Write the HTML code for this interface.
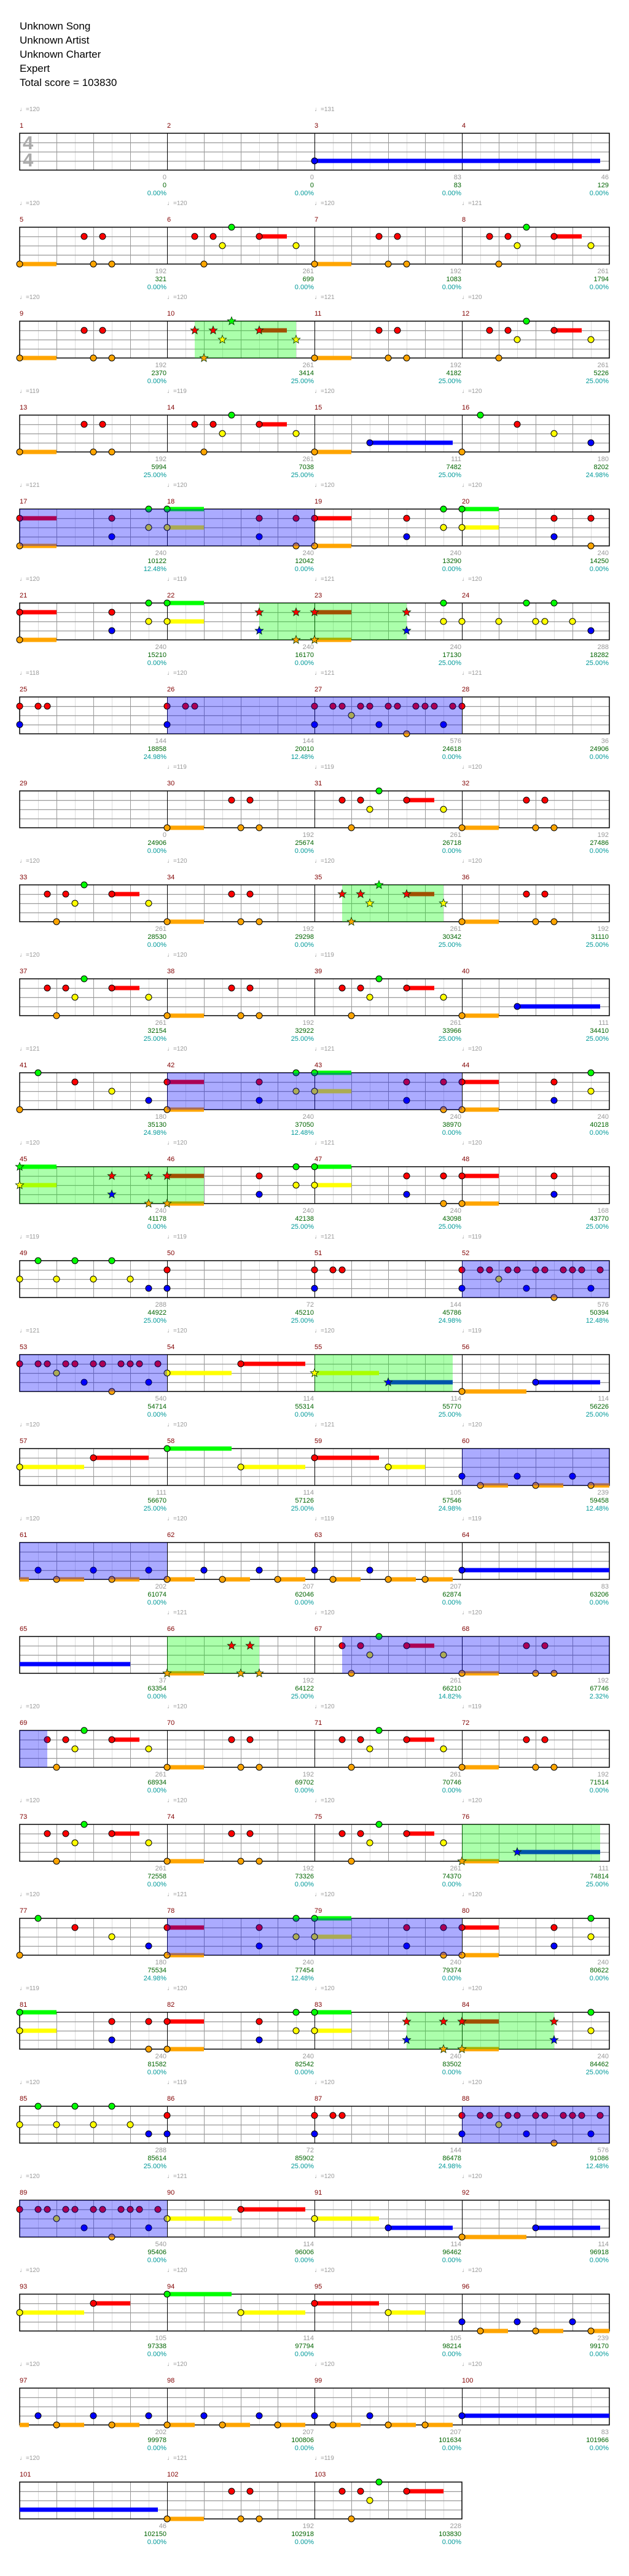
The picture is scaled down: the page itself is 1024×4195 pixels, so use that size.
<!DOCTYPE html>
<html><head><meta charset="utf-8">
<style>
html,body{margin:0;padding:0;background:#fff}
body{width:1024px;height:4195px;position:relative;overflow:hidden;font-family:"Liberation Sans",sans-serif}
#cv{position:absolute;left:0;top:0}
.hd{position:absolute;left:32px;top:31px;font-size:17px;line-height:23px;color:#000}
.row{position:absolute;left:0;width:1024px;height:1px}
.c0{left:32px}.c1{left:272px}.c2{left:512px}.c3{left:752px}
.tp{position:absolute;top:-44px;font-size:10px;color:#999;white-space:nowrap}
.mn{position:absolute;top:-18px;font-size:11px;color:#800000}
.st{position:absolute;top:66px;width:239px;text-align:right;font-size:11px;line-height:13px}
.st b{display:block;font-weight:normal;color:#999}
.st b.g{color:#006400}.st b.c{color:#009999}
.ts{position:absolute;left:37px;font-size:31px;line-height:28px;color:#aaa;font-weight:bold}
</style></head><body>
<svg id="cv" width="1024" height="4195" xmlns="http://www.w3.org/2000/svg"></svg>
<div class="hd">Unknown Song<br>Unknown Artist<br>Unknown Charter<br>Expert<br>Total score = 103830</div>
<div class="ts" style="top:219px">4</div><div class="ts" style="top:247px">4</div>

<div class="row" style="top:217px"><span class="tp c0">♩=120</span><span class="tp c2">♩=131</span>
<span class="mn c0">1</span><span class="mn c1">2</span><span class="mn c2">3</span><span class="mn c3">4</span>
<div class="st c0"><b>0</b><b class="g">0</b><b class="c">0.00%</b></div><div class="st c1"><b>0</b><b class="g">0</b><b class="c">0.00%</b></div><div class="st c2"><b>83</b><b class="g">83</b><b class="c">0.00%</b></div><div class="st c3"><b>46</b><b class="g">129</b><b class="c">0.00%</b></div></div>

<div class="row" style="top:370px"><span class="tp c0">♩=120</span><span class="tp c1">♩=120</span><span class="tp c2">♩=120</span><span class="tp c3">♩=121</span>
<span class="mn c0">5</span><span class="mn c1">6</span><span class="mn c2">7</span><span class="mn c3">8</span>
<div class="st c0"><b>192</b><b class="g">321</b><b class="c">0.00%</b></div><div class="st c1"><b>261</b><b class="g">699</b><b class="c">0.00%</b></div><div class="st c2"><b>192</b><b class="g">1083</b><b class="c">0.00%</b></div><div class="st c3"><b>261</b><b class="g">1794</b><b class="c">0.00%</b></div></div>

<div class="row" style="top:523px"><span class="tp c0">♩=120</span><span class="tp c1">♩=120</span><span class="tp c2">♩=121</span><span class="tp c3">♩=120</span>
<span class="mn c0">9</span><span class="mn c1">10</span><span class="mn c2">11</span><span class="mn c3">12</span>
<div class="st c0"><b>192</b><b class="g">2370</b><b class="c">0.00%</b></div><div class="st c1"><b>261</b><b class="g">3414</b><b class="c">25.00%</b></div><div class="st c2"><b>192</b><b class="g">4182</b><b class="c">25.00%</b></div><div class="st c3"><b>261</b><b class="g">5226</b><b class="c">25.00%</b></div></div>

<div class="row" style="top:676px"><span class="tp c0">♩=119</span><span class="tp c1">♩=119</span><span class="tp c2">♩=120</span><span class="tp c3">♩=120</span>
<span class="mn c0">13</span><span class="mn c1">14</span><span class="mn c2">15</span><span class="mn c3">16</span>
<div class="st c0"><b>192</b><b class="g">5994</b><b class="c">25.00%</b></div><div class="st c1"><b>261</b><b class="g">7038</b><b class="c">25.00%</b></div><div class="st c2"><b>111</b><b class="g">7482</b><b class="c">25.00%</b></div><div class="st c3"><b>180</b><b class="g">8202</b><b class="c">24.98%</b></div></div>

<div class="row" style="top:829px"><span class="tp c0">♩=121</span><span class="tp c1">♩=120</span><span class="tp c2">♩=120</span><span class="tp c3">♩=120</span>
<span class="mn c0">17</span><span class="mn c1">18</span><span class="mn c2">19</span><span class="mn c3">20</span>
<div class="st c0"><b>240</b><b class="g">10122</b><b class="c">12.48%</b></div><div class="st c1"><b>240</b><b class="g">12042</b><b class="c">0.00%</b></div><div class="st c2"><b>240</b><b class="g">13290</b><b class="c">0.00%</b></div><div class="st c3"><b>240</b><b class="g">14250</b><b class="c">0.00%</b></div></div>

<div class="row" style="top:982px"><span class="tp c0">♩=120</span><span class="tp c1">♩=119</span><span class="tp c2">♩=121</span><span class="tp c3">♩=120</span>
<span class="mn c0">21</span><span class="mn c1">22</span><span class="mn c2">23</span><span class="mn c3">24</span>
<div class="st c0"><b>240</b><b class="g">15210</b><b class="c">0.00%</b></div><div class="st c1"><b>240</b><b class="g">16170</b><b class="c">0.00%</b></div><div class="st c2"><b>240</b><b class="g">17130</b><b class="c">25.00%</b></div><div class="st c3"><b>288</b><b class="g">18282</b><b class="c">25.00%</b></div></div>

<div class="row" style="top:1135px"><span class="tp c0">♩=118</span><span class="tp c1">♩=120</span><span class="tp c2">♩=121</span><span class="tp c3">♩=121</span>
<span class="mn c0">25</span><span class="mn c1">26</span><span class="mn c2">27</span><span class="mn c3">28</span>
<div class="st c0"><b>144</b><b class="g">18858</b><b class="c">24.98%</b></div><div class="st c1"><b>144</b><b class="g">20010</b><b class="c">12.48%</b></div><div class="st c2"><b>576</b><b class="g">24618</b><b class="c">0.00%</b></div><div class="st c3"><b>36</b><b class="g">24906</b><b class="c">0.00%</b></div></div>

<div class="row" style="top:1288px"><span class="tp c1">♩=119</span><span class="tp c2">♩=119</span><span class="tp c3">♩=120</span>
<span class="mn c0">29</span><span class="mn c1">30</span><span class="mn c2">31</span><span class="mn c3">32</span>
<div class="st c0"><b>0</b><b class="g">24906</b><b class="c">0.00%</b></div><div class="st c1"><b>192</b><b class="g">25674</b><b class="c">0.00%</b></div><div class="st c2"><b>261</b><b class="g">26718</b><b class="c">0.00%</b></div><div class="st c3"><b>192</b><b class="g">27486</b><b class="c">0.00%</b></div></div>

<div class="row" style="top:1441px"><span class="tp c0">♩=120</span><span class="tp c1">♩=120</span><span class="tp c2">♩=120</span><span class="tp c3">♩=120</span>
<span class="mn c0">33</span><span class="mn c1">34</span><span class="mn c2">35</span><span class="mn c3">36</span>
<div class="st c0"><b>261</b><b class="g">28530</b><b class="c">0.00%</b></div><div class="st c1"><b>192</b><b class="g">29298</b><b class="c">0.00%</b></div><div class="st c2"><b>261</b><b class="g">30342</b><b class="c">25.00%</b></div><div class="st c3"><b>192</b><b class="g">31110</b><b class="c">25.00%</b></div></div>

<div class="row" style="top:1594px"><span class="tp c0">♩=120</span><span class="tp c1">♩=120</span><span class="tp c2">♩=119</span>
<span class="mn c0">37</span><span class="mn c1">38</span><span class="mn c2">39</span><span class="mn c3">40</span>
<div class="st c0"><b>261</b><b class="g">32154</b><b class="c">25.00%</b></div><div class="st c1"><b>192</b><b class="g">32922</b><b class="c">25.00%</b></div><div class="st c2"><b>261</b><b class="g">33966</b><b class="c">25.00%</b></div><div class="st c3"><b>111</b><b class="g">34410</b><b class="c">25.00%</b></div></div>

<div class="row" style="top:1747px"><span class="tp c0">♩=121</span><span class="tp c1">♩=120</span><span class="tp c2">♩=121</span><span class="tp c3">♩=120</span>
<span class="mn c0">41</span><span class="mn c1">42</span><span class="mn c2">43</span><span class="mn c3">44</span>
<div class="st c0"><b>180</b><b class="g">35130</b><b class="c">24.98%</b></div><div class="st c1"><b>240</b><b class="g">37050</b><b class="c">12.48%</b></div><div class="st c2"><b>240</b><b class="g">38970</b><b class="c">0.00%</b></div><div class="st c3"><b>240</b><b class="g">40218</b><b class="c">0.00%</b></div></div>

<div class="row" style="top:1900px"><span class="tp c0">♩=120</span><span class="tp c1">♩=120</span><span class="tp c2">♩=121</span><span class="tp c3">♩=120</span>
<span class="mn c0">45</span><span class="mn c1">46</span><span class="mn c2">47</span><span class="mn c3">48</span>
<div class="st c0"><b>240</b><b class="g">41178</b><b class="c">0.00%</b></div><div class="st c1"><b>240</b><b class="g">42138</b><b class="c">25.00%</b></div><div class="st c2"><b>240</b><b class="g">43098</b><b class="c">25.00%</b></div><div class="st c3"><b>168</b><b class="g">43770</b><b class="c">25.00%</b></div></div>

<div class="row" style="top:2053px"><span class="tp c0">♩=119</span><span class="tp c1">♩=119</span><span class="tp c2">♩=121</span><span class="tp c3">♩=119</span>
<span class="mn c0">49</span><span class="mn c1">50</span><span class="mn c2">51</span><span class="mn c3">52</span>
<div class="st c0"><b>288</b><b class="g">44922</b><b class="c">25.00%</b></div><div class="st c1"><b>72</b><b class="g">45210</b><b class="c">25.00%</b></div><div class="st c2"><b>144</b><b class="g">45786</b><b class="c">24.98%</b></div><div class="st c3"><b>576</b><b class="g">50394</b><b class="c">12.48%</b></div></div>

<div class="row" style="top:2206px"><span class="tp c0">♩=121</span><span class="tp c1">♩=120</span><span class="tp c2">♩=120</span><span class="tp c3">♩=119</span>
<span class="mn c0">53</span><span class="mn c1">54</span><span class="mn c2">55</span><span class="mn c3">56</span>
<div class="st c0"><b>540</b><b class="g">54714</b><b class="c">0.00%</b></div><div class="st c1"><b>114</b><b class="g">55314</b><b class="c">0.00%</b></div><div class="st c2"><b>114</b><b class="g">55770</b><b class="c">25.00%</b></div><div class="st c3"><b>114</b><b class="g">56226</b><b class="c">25.00%</b></div></div>

<div class="row" style="top:2359px"><span class="tp c0">♩=120</span><span class="tp c1">♩=120</span><span class="tp c2">♩=121</span><span class="tp c3">♩=120</span>
<span class="mn c0">57</span><span class="mn c1">58</span><span class="mn c2">59</span><span class="mn c3">60</span>
<div class="st c0"><b>111</b><b class="g">56670</b><b class="c">25.00%</b></div><div class="st c1"><b>114</b><b class="g">57126</b><b class="c">25.00%</b></div><div class="st c2"><b>105</b><b class="g">57546</b><b class="c">24.98%</b></div><div class="st c3"><b>239</b><b class="g">59458</b><b class="c">12.48%</b></div></div>

<div class="row" style="top:2512px"><span class="tp c0">♩=120</span><span class="tp c1">♩=120</span><span class="tp c2">♩=119</span><span class="tp c3">♩=119</span>
<span class="mn c0">61</span><span class="mn c1">62</span><span class="mn c2">63</span><span class="mn c3">64</span>
<div class="st c0"><b>202</b><b class="g">61074</b><b class="c">0.00%</b></div><div class="st c1"><b>207</b><b class="g">62046</b><b class="c">0.00%</b></div><div class="st c2"><b>207</b><b class="g">62874</b><b class="c">0.00%</b></div><div class="st c3"><b>83</b><b class="g">63206</b><b class="c">0.00%</b></div></div>

<div class="row" style="top:2665px"><span class="tp c1">♩=121</span><span class="tp c2">♩=120</span><span class="tp c3">♩=120</span>
<span class="mn c0">65</span><span class="mn c1">66</span><span class="mn c2">67</span><span class="mn c3">68</span>
<div class="st c0"><b>37</b><b class="g">63354</b><b class="c">0.00%</b></div><div class="st c1"><b>192</b><b class="g">64122</b><b class="c">25.00%</b></div><div class="st c2"><b>261</b><b class="g">66210</b><b class="c">14.82%</b></div><div class="st c3"><b>192</b><b class="g">67746</b><b class="c">2.32%</b></div></div>

<div class="row" style="top:2818px"><span class="tp c0">♩=120</span><span class="tp c1">♩=120</span><span class="tp c2">♩=120</span><span class="tp c3">♩=119</span>
<span class="mn c0">69</span><span class="mn c1">70</span><span class="mn c2">71</span><span class="mn c3">72</span>
<div class="st c0"><b>261</b><b class="g">68934</b><b class="c">0.00%</b></div><div class="st c1"><b>192</b><b class="g">69702</b><b class="c">0.00%</b></div><div class="st c2"><b>261</b><b class="g">70746</b><b class="c">0.00%</b></div><div class="st c3"><b>192</b><b class="g">71514</b><b class="c">0.00%</b></div></div>

<div class="row" style="top:2971px"><span class="tp c0">♩=120</span><span class="tp c1">♩=120</span><span class="tp c2">♩=120</span><span class="tp c3">♩=120</span>
<span class="mn c0">73</span><span class="mn c1">74</span><span class="mn c2">75</span><span class="mn c3">76</span>
<div class="st c0"><b>261</b><b class="g">72558</b><b class="c">0.00%</b></div><div class="st c1"><b>192</b><b class="g">73326</b><b class="c">0.00%</b></div><div class="st c2"><b>261</b><b class="g">74370</b><b class="c">0.00%</b></div><div class="st c3"><b>111</b><b class="g">74814</b><b class="c">25.00%</b></div></div>

<div class="row" style="top:3124px"><span class="tp c0">♩=120</span><span class="tp c1">♩=121</span><span class="tp c2">♩=120</span><span class="tp c3">♩=120</span>
<span class="mn c0">77</span><span class="mn c1">78</span><span class="mn c2">79</span><span class="mn c3">80</span>
<div class="st c0"><b>180</b><b class="g">75534</b><b class="c">24.98%</b></div><div class="st c1"><b>240</b><b class="g">77454</b><b class="c">12.48%</b></div><div class="st c2"><b>240</b><b class="g">79374</b><b class="c">0.00%</b></div><div class="st c3"><b>240</b><b class="g">80622</b><b class="c">0.00%</b></div></div>

<div class="row" style="top:3277px"><span class="tp c0">♩=119</span><span class="tp c1">♩=120</span><span class="tp c2">♩=120</span><span class="tp c3">♩=120</span>
<span class="mn c0">81</span><span class="mn c1">82</span><span class="mn c2">83</span><span class="mn c3">84</span>
<div class="st c0"><b>240</b><b class="g">81582</b><b class="c">0.00%</b></div><div class="st c1"><b>240</b><b class="g">82542</b><b class="c">0.00%</b></div><div class="st c2"><b>240</b><b class="g">83502</b><b class="c">0.00%</b></div><div class="st c3"><b>240</b><b class="g">84462</b><b class="c">25.00%</b></div></div>

<div class="row" style="top:3430px"><span class="tp c0">♩=120</span><span class="tp c1">♩=119</span><span class="tp c2">♩=120</span><span class="tp c3">♩=120</span>
<span class="mn c0">85</span><span class="mn c1">86</span><span class="mn c2">87</span><span class="mn c3">88</span>
<div class="st c0"><b>288</b><b class="g">85614</b><b class="c">25.00%</b></div><div class="st c1"><b>72</b><b class="g">85902</b><b class="c">25.00%</b></div><div class="st c2"><b>144</b><b class="g">86478</b><b class="c">24.98%</b></div><div class="st c3"><b>576</b><b class="g">91086</b><b class="c">12.48%</b></div></div>

<div class="row" style="top:3583px"><span class="tp c0">♩=120</span><span class="tp c1">♩=121</span><span class="tp c2">♩=120</span><span class="tp c3">♩=120</span>
<span class="mn c0">89</span><span class="mn c1">90</span><span class="mn c2">91</span><span class="mn c3">92</span>
<div class="st c0"><b>540</b><b class="g">95406</b><b class="c">0.00%</b></div><div class="st c1"><b>114</b><b class="g">96006</b><b class="c">0.00%</b></div><div class="st c2"><b>114</b><b class="g">96462</b><b class="c">0.00%</b></div><div class="st c3"><b>114</b><b class="g">96918</b><b class="c">0.00%</b></div></div>

<div class="row" style="top:3736px"><span class="tp c0">♩=120</span><span class="tp c1">♩=120</span><span class="tp c2">♩=120</span><span class="tp c3">♩=120</span>
<span class="mn c0">93</span><span class="mn c1">94</span><span class="mn c2">95</span><span class="mn c3">96</span>
<div class="st c0"><b>105</b><b class="g">97338</b><b class="c">0.00%</b></div><div class="st c1"><b>114</b><b class="g">97794</b><b class="c">0.00%</b></div><div class="st c2"><b>105</b><b class="g">98214</b><b class="c">0.00%</b></div><div class="st c3"><b>239</b><b class="g">99170</b><b class="c">0.00%</b></div></div>

<div class="row" style="top:3889px"><span class="tp c0">♩=120</span><span class="tp c1">♩=120</span><span class="tp c2">♩=120</span><span class="tp c3">♩=120</span>
<span class="mn c0">97</span><span class="mn c1">98</span><span class="mn c2">99</span><span class="mn c3">100</span>
<div class="st c0"><b>202</b><b class="g">99978</b><b class="c">0.00%</b></div><div class="st c1"><b>207</b><b class="g">100806</b><b class="c">0.00%</b></div><div class="st c2"><b>207</b><b class="g">101634</b><b class="c">0.00%</b></div><div class="st c3"><b>83</b><b class="g">101966</b><b class="c">0.00%</b></div></div>

<div class="row" style="top:4042px"><span class="tp c0">♩=120</span><span class="tp c1">♩=121</span><span class="tp c2">♩=119</span>
<span class="mn c0">101</span><span class="mn c1">102</span><span class="mn c2">103</span>
<div class="st c0"><b>46</b><b class="g">102150</b><b class="c">0.00%</b></div><div class="st c1"><b>192</b><b class="g">102918</b><b class="c">0.00%</b></div><div class="st c2"><b>228</b><b class="g">103830</b><b class="c">0.00%</b></div></div>

<script>
var P={
A:"0o4 7r 9r 8o 10o",
B:"3r 5r 7g 6y 10r3 14y 4o",
D:"0r4 0o4 10r 10b 14g 14y 16g4 16y4 26r 26b 30r 30o"
};
var E="0o 2g 6r 10y 14b 16r4 16o4 26r 26b 30g 30y 32g4 32y4 42r 42b 46r 46o 48r4 48o4 58r 58b 62g 62y";
var F="0y 2g 4y 6g 8y 10g 12y 14b 16r 16b 32r 34r 35r 32b 48r 50r 51r 53r 54r 56r 57r 59r 60r 61r 63r 52y 48b 55b 62b 58o";
var G="0r 2r 3r 5r 6r 8r 9r 11r 12r 13r 15r 4y 7b 14b 10o 16y7 24r7 32y7 40b7 48o7 56b7";
var H="0O1 2b 4o3 8b 10o3 14b 16o3 20b 22o3 26b 28o3 32b 34o3 38b 40o3 44o3 48b16";
var R=[
{n:"32b31"},
{n:"@A0 @B16 @A32 @B48"},
{n:"@A0 @B16 @A32 @B48",g:[19,30]},
{n:"@A0 @B16 32o4 38b9 48o 50g 54r 58y 62b"},
{n:"@D0 @D32",p:[0,32]},
{n:"@D0 32r4 32o4 42r 42b 46g 46y 48y 52y 55g 56y 57y 58g 60y 62b",g:[26,42]},
{n:"0r 2r 3r 0b 16r 18r 19r 16b 32r 34r 35r 37r 38r 40r 41r 43r 44r 45r 47r 48r 36y 32b 39b 46b 42o",p:[16,48]},
{n:"@A16 @B32 @A48"},
{n:"@B0 @A16 @B32 @A48",g:[35,46]},
{n:"@B0 @A16 @B32 48o4 54b9"},
{n:E,p:[16,48]},
{n:"0g4 0y4 10r 10b 14r 14o 16r4 16o4 26r 26b 30g 30y 32g4 32y4 42r 42b 46r 46o 48r4 48o4 58r 58b",g:[0,20]},
{n:F,p:[48,64]},
{n:G,p:[0,16],g:[32,47]},
{n:"0y7 8r6 16g7 24y7 32r7 40y4 48b 54b 60b 50o3 56o3 62o2",p:[48,64]},
{n:H,p:[0,16]},
{n:"0B12 16o4 23r 25r 24o 26o @B32 @A48",g:[16,26],p:[35,64]},
{n:"@B0 @A16 @B32 @A48",p:[0,3]},
{n:"@B0 @A16 @B32 48o4 54b9",g:[48,63]},
{n:E,p:[16,48]},
{n:"0g4 0y4 10r 10b 14r 14o 16r4 16o4 26r 26b 30g 30y 32g4 32y4 42r 42b 46r 46o 48r4 48o4 58r 58b 62g 62y",g:[42,58]},
{n:F,p:[48,64]},
{n:G,p:[0,16]},
{n:"0y7 8r4 16g7 24y7 32r7 40y4 48b 54b 60b 50o3 56o3 62o2"},
{n:H},
{n:"0B15 16o4 23r 25r 24o 26o 35r 37r 39g 38y 42r4 36o",len:48}
];
var LN={g:0,r:1,y:2,b:3,o:4};
var COL=["#00ff00","#ff0000","#ffff00","#0000ff","#ffa500"];
var SCOL=["#00ff00","#a05000","#aaff00","#0055aa","#aab000"];
function expand(str){
  var out=[];
  str.split(/\s+/).forEach(function(t){
    if(!t)return;
    if(t[0]=='@'){var k=t[1],off=+t.slice(2);
      P[k].split(/\s+/).forEach(function(u){var m=u.match(/^(\d+)([a-zA-Z])(\d*)$/);out.push([+m[1]+off,m[2],m[3]?+m[3]:0]);});
    } else {var m=t.match(/^(\d+)([a-zA-Z])(\d*)$/);out.push([+m[1],m[2],m[3]?+m[3]:0]);}
  });
  return out;
}
function star(cx,cy,ro,ri){var p=[];for(var i=0;i<10;i++){var r=i%2?ri:ro,a=-Math.PI/2+i*Math.PI/5;p.push((cx+r*Math.cos(a)).toFixed(1)+","+(cy+r*Math.sin(a)).toFixed(1));}return p.join(" ");}
var s="";
R.forEach(function(r,i){
  var T=217+153*i,X=32,n=r.len||64,W=n*15;
  var k,x;
  for(k=1;k<n/2;k++){if(k%2){x=X+k*30+0.5;s+='<line x1="'+x+'" y1="'+T+'" x2="'+x+'" y2="'+(T+60)+'" stroke="#dddddd" stroke-width="1"/>';}}
  for(k=1;k<4;k++){var y=T+k*15+0.5;s+='<line x1="'+X+'" y1="'+y+'" x2="'+(X+W)+'" y2="'+y+'" stroke="#999" stroke-width="1.3"/>';}
  for(k=2;k<n/2;k+=2){if(k%8){x=X+k*30+0.5;s+='<line x1="'+x+'" y1="'+T+'" x2="'+x+'" y2="'+(T+60)+'" stroke="#999" stroke-width="1"/>';}}
  for(k=8;k<n/2;k+=8){x=X+k*30+0.5;s+='<line x1="'+x+'" y1="'+T+'" x2="'+x+'" y2="'+(T+60)+'" stroke="#000" stroke-width="1"/>';}
  s+='<rect x="'+X+'" y="'+T+'" width="'+W+'" height="60" fill="none" stroke="#000" stroke-width="1.5"/>';
  if(r.g){s+='<rect x="'+(X+r.g[0]*15)+'" y="'+T+'" width="'+((r.g[1]-r.g[0])*15)+'" height="60" fill="rgba(0,255,0,0.33)"/>';}
  var notes=expand(r.n);
  notes.forEach(function(nt){
    var lane=LN[nt[1].toLowerCase()],len=nt[2];if(!len)return;
    var isStar=r.g&&nt[0]>=r.g[0]&&nt[0]<=r.g[1];
    var x0=X+nt[0]*15,y=T+lane*15;
    var c=isStar?SCOL[lane]:COL[lane];
    if(isStar&&lane==4){s+='<rect x="'+x0+'" y="'+(y-3.5)+'" width="'+(len*15)+'" height="7" fill="#ffa500"/><rect x="'+x0+'" y="'+(y-3.5)+'" width="'+(len*15)+'" height="3.5" fill="#aab000"/>';}
    else s+='<rect x="'+x0+'" y="'+(y-3.5)+'" width="'+(len*15)+'" height="7" fill="'+c+'"/>';
  });
  notes.forEach(function(nt){
    if(nt[1]==nt[1].toUpperCase())return;
    var lane=LN[nt[1]];
    var isStar=r.g&&nt[0]>=r.g[0]&&nt[0]<=r.g[1];
    var cx=X+nt[0]*15,cy=T+lane*15;
    if(isStar)s+='<polygon points="'+star(cx,cy,7,3)+'" fill="'+COL[lane]+'" stroke="#003300" stroke-width="0.8"/>';
    else s+='<circle cx="'+cx+'" cy="'+cy+'" r="5" fill="'+COL[lane]+'" stroke="#000" stroke-width="1"/>';
  });
  if(r.p){s+='<rect x="'+(X+r.p[0]*15)+'" y="'+T+'" width="'+((r.p[1]-r.p[0])*15)+'" height="60" fill="rgba(0,0,255,0.33)"/>';}
});
document.getElementById("cv").innerHTML=s;
</script>
</body></html>
